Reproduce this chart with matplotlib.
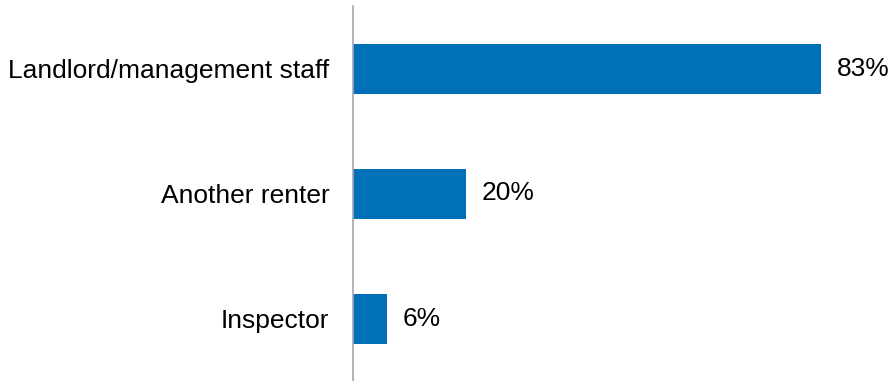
import matplotlib.pyplot as plt

categories = ['Landlord/management staff', 'Another renter', 'Inspector']
shares = [83, 20, 6]

plt.rcParams['font.family'] = ['Liberation Sans', 'DejaVu Sans']

fig = plt.figure(figsize=(8.91, 3.81), dpi=100)
ax = fig.add_axes([353 / 891, 0, 536 / 891, 375 / 381])

pos = list(range(len(categories)))
ax.barh(pos, shares, height=0.4, color='#0070B8')

for p, v in zip(pos, shares):
    ax.text(v + 2.8, p, f'{v}%', va='center', ha='left', fontsize=19, color='black')

ax.set_xlim(0, 95)
ax.set_ylim(2.5, -0.5)
ax.set_yticks(pos)
ax.set_yticklabels(categories, fontsize=19, color='black')
ax.tick_params(axis='y', length=0, pad=17)
ax.set_xticks([])

for side in ['top', 'right', 'bottom']:
    ax.spines[side].set_visible(False)
ax.spines['left'].set_color('#A4A6B2')
ax.spines['left'].set_linewidth(1.2)

fig.savefig('out.png', dpi=100)
plt.close(fig)
